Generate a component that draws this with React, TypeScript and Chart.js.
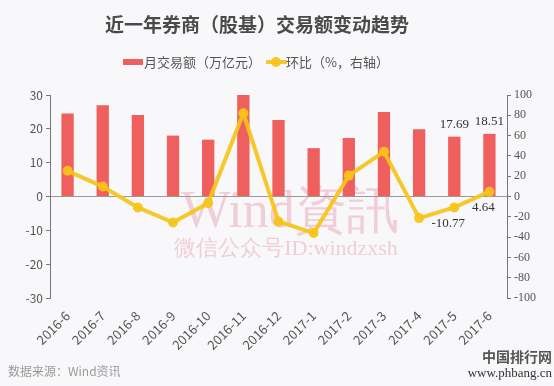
import React, { useEffect, useRef } from "react";
import { Chart, registerables } from "chart.js";

Chart.register(...registerables);

const categories = ["2016-6", "2016-7", "2016-8", "2016-9", "2016-10", "2016-11", "2016-12", "2017-1", "2017-2", "2017-3", "2017-4", "2017-5", "2017-6"];
const turnover = [24.5, 27.0, 24.1, 18.0, 16.8, 30.1, 22.6, 14.3, 17.3, 25.0, 19.9, 17.69, 18.51];
const momChange = [25.3, 9.8, -10.8, -25.6, -6.5, 82.0, -24.6, -36.0, 20.6, 44.2, -21.3, -10.77, 4.64];
const leftTicks = { min: -30, max: 30, step: 10 };
const rightTicks = { min: -100, max: 100, step: 20 };
const barLabelIdx = [11, 12];
const lineLabelIdx = [11, 12];

const BAR = "#EF5F5E";
const LINE = "rgba(246,195,24,0.92)";
const SANS = "'Noto Sans CJK SC', 'Noto Sans', sans-serif";
const SERIF = "'Liberation Serif', 'DejaVu Serif', serif";

const decor = {
  id: "decor",
  beforeDraw(chart: any) {
    const c = chart.ctx;
    c.save();
    c.fillStyle = "#f8f8fa";
    c.fillRect(0, 0, chart.width, chart.height);
    // title
    c.fillStyle = "#4a4a4a";
    c.font = `bold 19px ${SANS}`;
    c.textAlign = "center";
    c.textBaseline = "middle";
    c.fillText("近一年券商（股基）交易额变动趋势", 257, 25);
    // legend
    c.fillStyle = BAR;
    c.fillRect(123, 59, 20, 6);
    c.font = `13px ${SANS}`;
    c.fillStyle = "#555";
    c.textAlign = "left";
    c.fillText("月交易额（万亿元）", 144, 62);
    c.strokeStyle = LINE;
    c.lineWidth = 4;
    c.beginPath();
    c.moveTo(266, 62);
    c.lineTo(287, 62);
    c.stroke();
    c.fillStyle = LINE;
    c.beginPath();
    c.arc(276, 62, 5, 0, Math.PI * 2);
    c.fill();
    c.fillStyle = "#555";
    c.fillText("环比（%，右轴）", 286, 62);
    // footer
    c.fillStyle = "#9a9a9a";
    c.font = `12px ${SANS}`;
    c.fillText("数据来源：Wind资讯", 8, 371);
    c.fillStyle = "#555";
    c.font = `bold 14px ${SANS}`;
    c.textAlign = "right";
    c.fillText("中国排行网", 552, 357);
    c.fillStyle = "#333";
    c.font = `13px ${SERIF}`;
    c.fillText("www.phbang.cn", 552, 374);
    c.restore();
  },
  beforeDatasetsDraw(chart: any) {
    const c = chart.ctx;
    c.save();
    c.fillStyle = "rgba(225,130,150,0.35)";
    c.textAlign = "center";
    c.textBaseline = "middle";
    c.font = `52px ${SERIF}`;
    c.fillText("Wind資訊", 290, 213);
    c.font = `22px ${SERIF}`;
    c.fillText("微信公众号ID:windzxsh", 286, 249);
    c.restore();
  },
  afterDatasetsDraw(chart: any) {
    const c = chart.ctx;
    c.save();
    c.fillStyle = "#333";
    c.font = `13px ${SERIF}`;
    c.textAlign = "center";
    c.textBaseline = "middle";
    const barMeta = chart.getDatasetMeta(0);
    barLabelIdx.forEach((i) => {
      const el = barMeta.data[i];
      c.fillText(turnover[i].toFixed(2), el.x, el.y - 12);
    });
    const lineMeta = chart.getDatasetMeta(1);
    lineLabelIdx.forEach((i) => {
      const el = lineMeta.data[i];
      c.fillText(momChange[i].toFixed(2), el.x - 6, el.y + 16);
    });
    c.restore();
  },
};

export default function App() {
  const ref = useRef<HTMLCanvasElement>(null);
  useEffect(() => {
    document.body.style.margin = "0";
    const chart = new Chart(ref.current!, {
      type: "bar",
      data: {
        labels: categories,
        datasets: [
          {
            type: "bar",
            label: "月交易额（万亿元）",
            data: turnover,
            backgroundColor: BAR,
            yAxisID: "y",
            barPercentage: 0.35,
            categoryPercentage: 1,
            order: 2,
          },
          {
            type: "line",
            label: "环比（%，右轴）",
            data: momChange,
            borderColor: LINE,
            backgroundColor: LINE,
            borderWidth: 4,
            pointRadius: 5,
            pointBorderWidth: 0,
            tension: 0,
            yAxisID: "y1",
            order: 1,
          } as any,
        ],
      },
      options: {
        responsive: false,
        animation: false,
        layout: { padding: { top: 95, left: 0, right: 0, bottom: 0 } },
        plugins: { legend: { display: false }, title: { display: false }, tooltip: { enabled: false } },
        scales: {
          x: {
            grid: { display: false, drawTicks: false },
            border: { display: false },
            ticks: {
              color: "#555",
              font: { size: 13, family: SANS },
              minRotation: 45,
              maxRotation: 45,
              padding: 10,
            },
            afterFit(s: any) {
              s.height = 88;
            },
          },
          y: {
            position: "left",
            min: leftTicks.min,
            max: leftTicks.max,
            ticks: { stepSize: leftTicks.step, color: "#555", font: { size: 12, family: SANS }, padding: 3 },
            grid: {
              color: (ctx: any) => (ctx.tick && ctx.tick.value === 0 ? "#999" : "transparent"),
              tickColor: "#777",
              tickLength: 4,
              lineWidth: 1,
            },
            border: { display: true, color: "#777" },
            afterFit(s: any) {
              s.width = 50;
            },
          },
          y1: {
            position: "right",
            min: rightTicks.min,
            max: rightTicks.max,
            ticks: { stepSize: rightTicks.step, color: "#555", font: { size: 12, family: SERIF }, padding: 3 },
            grid: { drawOnChartArea: false, tickColor: "#777", tickLength: 4 },
            border: { display: true, color: "#777" },
            afterFit(s: any) {
              s.width = 47;
            },
          },
        },
      },
      plugins: [decor],
    });
    return () => chart.destroy();
  }, []);
  return (
    <div style={{ position: "absolute", left: 0, top: 0, width: 554, height: 386 }}>
      <canvas ref={ref} width={554} height={386} style={{ display: "block" }} />
    </div>
  );
}
